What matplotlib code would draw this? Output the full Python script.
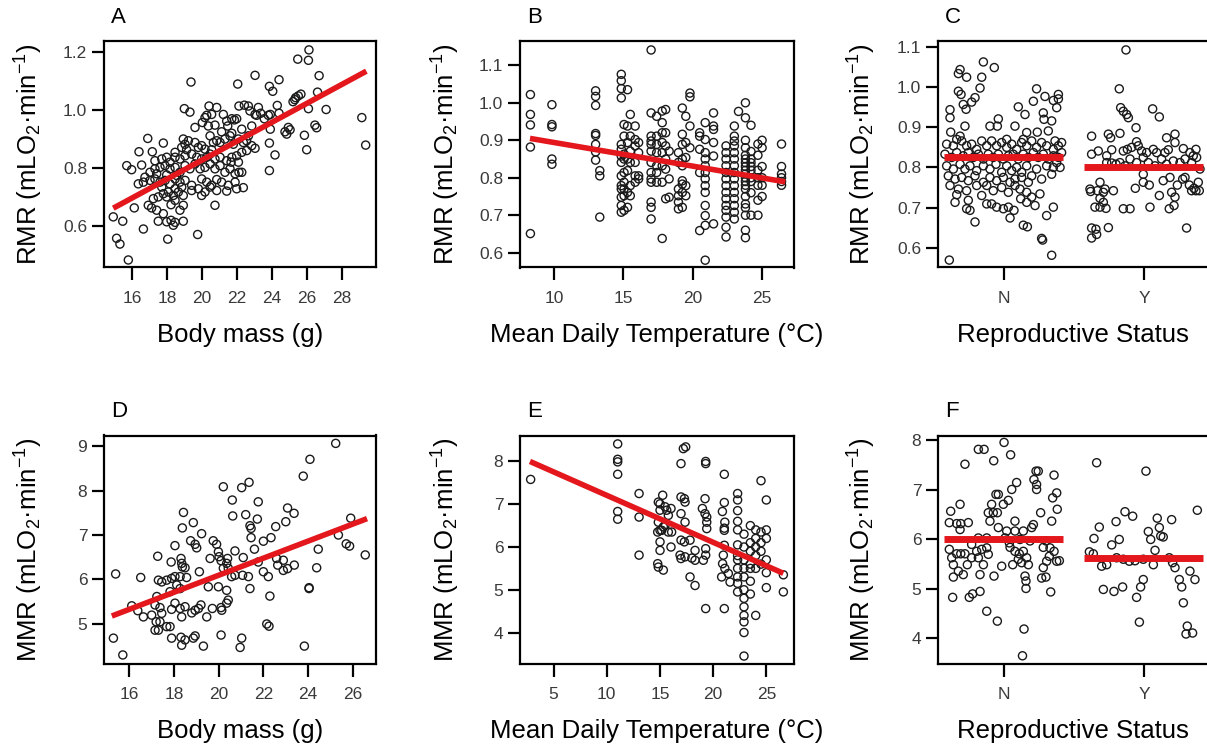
import matplotlib.pyplot as plt
import numpy as np

plt.rcParams['font.family'] = ['Liberation Sans', 'DejaVu Sans']
plt.rcParams['mathtext.fontset'] = 'custom'
plt.rcParams['mathtext.rm'] = 'Liberation Sans'
plt.rcParams['mathtext.it'] = 'Liberation Sans:italic'

# ---- panel A : RMR vs body mass (g, mL O2/min)
a_pts = [
    (26.11, 1.209), (25.47, 1.177), (26.08, 1.173), (26.69, 1.12), (19.37, 1.098), (22.04, 1.091),
    (23.03, 1.121), (24.4, 1.106), (23.85, 1.083), (24.04, 1.066), (26.6, 1.063), (27.09, 1.003),
    (26.08, 1.006), (25.3, 1.037), (25.5, 1.05), (25.65, 1.056), (25.35, 1.044), (25.2, 1.03),
    (24.3, 1.017), (24.4, 0.99), (23.9, 0.986), (23.9, 0.935), (23.56, 0.971), (18.99, 1.006),
    (19.31, 0.994), (20.4, 1.015), (20.84, 1.01), (20.55, 0.986), (20.27, 0.983), (22.11, 1.015),
    (22.42, 1.018), (22.65, 1.015), (23.22, 1.01), (23.12, 0.983), (23.35, 0.99), (23.03, 0.986),
    (22.74, 0.998), (21.7, 0.971), (21.98, 0.971), (21.85, 0.967), (21.22, 0.986), (23.79, 0.983),
    (24.93, 0.941), (25.03, 0.933), (24.74, 0.926), (24.84, 0.918), (25.85, 0.914), (26.45, 0.949),
    (26.55, 0.94), (25.98, 0.864), (24.17, 0.846), (23.85, 0.887), (23.85, 0.792), (23.03, 0.869),
    (22.36, 0.733), (22.11, 0.786), (21.89, 0.752), (21.41, 0.721), (20.74, 0.672), (19.75, 0.571),
    (18.04, 0.555), (16.9, 0.903), (17.79, 0.887), (16.4, 0.857), (17.16, 0.857), (15.7, 0.809),
    (15.98, 0.795), (16.55, 0.811), (16.36, 0.746), (16.65, 0.752), (14.93, 0.632), (15.47, 0.617),
    (15.12, 0.558), (15.31, 0.538), (15.79, 0.483), (16.13, 0.663), (16.65, 0.59), (17.5, 0.617),
    (17.98, 0.615), (18.36, 0.603), (18.46, 0.613), (18.93, 0.617), (18.23, 0.62), (16.93, 0.672),
    (17.12, 0.663), (17.41, 0.655), (17.79, 0.643), (18.23, 0.674), (18.74, 0.655), (18.93, 0.672),
    (29.13, 0.975), (29.35, 0.88),
    (19.6, 0.941), (20.02, 0.958), (20.17, 0.975), (20.36, 0.946), (20.74, 0.949), (21.12, 0.926),
    (21.47, 0.946), (21.7, 0.921), (22.27, 0.935), (22.65, 0.912), (22.84, 0.946), (21.41, 0.963),
    (18.93, 0.901), (19.03, 0.883), (19.22, 0.895), (19.6, 0.889), (19.98, 0.878), (20.46, 0.912),
    (20.65, 0.889), (20.84, 0.895), (21.03, 0.889), (21.31, 0.901), (21.6, 0.912), (21.79, 0.883),
    (22.08, 0.901), (22.36, 0.889), (22.55, 0.895), (22.84, 0.878), (18.46, 0.855), (18.84, 0.872),
    (19.12, 0.864), (19.79, 0.872), (20.17, 0.866), (20.55, 0.864),
    (17.31, 0.826), (17.7, 0.832), (17.98, 0.838), (18.17, 0.821), (18.46, 0.838), (18.74, 0.832),
    (19.03, 0.843), (19.41, 0.849), (19.7, 0.838), (19.98, 0.832), (20.27, 0.838), (20.46, 0.849),
    (20.74, 0.832), (21.03, 0.838), (21.41, 0.826), (21.7, 0.838), (21.98, 0.843), (22.27, 0.855),
    (22.55, 0.861), (22.08, 0.821), (21.66, 0.821),
    (17.03, 0.786), (17.31, 0.798), (17.6, 0.803), (17.89, 0.809), (18.17, 0.798), (18.46, 0.803),
    (18.74, 0.786), (19.03, 0.809), (19.31, 0.798), (19.6, 0.815), (19.89, 0.798), (20.17, 0.803),
    (20.46, 0.815), (20.74, 0.798), (21.03, 0.809), (21.31, 0.786), (21.6, 0.798), (21.89, 0.781),
    (22.27, 0.786), (17.41, 0.781), (17.98, 0.777), (18.55, 0.775),
    (17.03, 0.758), (17.31, 0.763), (17.6, 0.752), (17.89, 0.758), (18.17, 0.746), (18.46, 0.763),
    (18.74, 0.752), (19.03, 0.758), (19.41, 0.741), (19.98, 0.763), (20.27, 0.752), (20.55, 0.741),
    (20.84, 0.761), (21.12, 0.752), (21.5, 0.741), (21.98, 0.729), (16.74, 0.769), (17.7, 0.735),
    (18.46, 0.729), (18.84, 0.735),
    (17.22, 0.695), (17.5, 0.701), (17.79, 0.712), (18.08, 0.718), (18.36, 0.706), (18.65, 0.718),
    (18.93, 0.706), (19.41, 0.723), (19.79, 0.729), (20.17, 0.718), (20.46, 0.735), (20.84, 0.723),
    (19.98, 0.706), (17.98, 0.701), (18.46, 0.689),
]
a_fit_x = [14.93, 29.39]
a_fit_y = [0.662, 1.1355]

# ---- panel B : RMR vs mean daily temperature, one column per day
b_cols = [
    (8.3, [1.022, 0.969, 0.941, 0.882, 0.651]),
    (9.85, [0.995, 0.942, 0.936, 0.85, 0.836]),
    (13.0, [1.032, 1.017, 0.993, 0.918, 0.913, 0.889, 0.869, 0.847]),
    (13.3, [0.819, 0.805, 0.695]),
    (14.85, [1.076, 1.059, 1.038, 1.013, 0.889, 0.876, 0.858, 0.841, 0.805, 0.779, 0.77, 0.748, 0.726, 0.708]),
    (15.05, [0.942, 0.911, 0.863, 0.85, 0.814, 0.788, 0.77, 0.752, 0.713]),
    (15.3, [1.035, 0.938, 0.894, 0.85, 0.819, 0.761, 0.721]),
    (15.5, [0.969, 0.911, 0.871, 0.841, 0.779, 0.752]),
    (15.85, [0.938, 0.902, 0.885, 0.841, 0.805, 0.788]),
    (16.1, [0.894, 0.867, 0.805, 0.797]),
    (17.0, [1.141, 0.973, 0.911, 0.898, 0.889, 0.871, 0.841, 0.814, 0.797, 0.788, 0.735, 0.721, 0.69]),
    (17.4, [0.964, 0.911, 0.889, 0.867, 0.832, 0.814, 0.788]),
    (17.8, [0.978, 0.947, 0.92, 0.894, 0.867, 0.832, 0.788, 0.638]),
    (18.05, [0.982, 0.92, 0.885, 0.85, 0.823, 0.744]),
    (18.3, [0.871, 0.797, 0.748]),
    (18.97, [0.867, 0.841, 0.77, 0.752, 0.735, 0.717]),
    (19.25, [0.986, 0.916, 0.889, 0.85, 0.832, 0.792, 0.783, 0.761, 0.721]),
    (19.5, [0.964, 0.894, 0.854, 0.779, 0.752]),
    (19.8, [1.026, 1.016, 0.938, 0.88]),
    (20.5, [0.92, 0.911, 0.876, 0.814, 0.659]),
    (20.9, [0.947, 0.902, 0.867, 0.85, 0.832, 0.814, 0.797, 0.779, 0.761, 0.726, 0.699, 0.673, 0.58]),
    (21.5, [0.973, 0.938, 0.929, 0.894, 0.858, 0.677]),
    (22.4, [0.885, 0.867, 0.85, 0.832, 0.814, 0.797, 0.779, 0.761, 0.744, 0.726, 0.713, 0.695, 0.668, 0.642]),
    (23.0, [0.938, 0.911, 0.898, 0.885, 0.867, 0.85, 0.832, 0.814, 0.797, 0.779, 0.761, 0.744, 0.726, 0.708, 0.69]),
    (23.3, [0.977]),
    (23.8, [1.0, 0.96, 0.9, 0.88, 0.86, 0.85, 0.84, 0.83, 0.82, 0.81, 0.8, 0.79, 0.78, 0.77, 0.75, 0.73, 0.72, 0.7, 0.66, 0.64]),
    (24.2, [0.94, 0.87, 0.85, 0.84, 0.83, 0.82, 0.8, 0.79, 0.76, 0.7]),
    (24.7, [0.89, 0.86, 0.82, 0.8, 0.78, 0.74, 0.7]),
    (25.0, [0.9, 0.88, 0.83, 0.8, 0.78, 0.75]),
    (26.4, [0.89, 0.83, 0.81, 0.8, 0.79, 0.78]),
]
b_fit_x = [8.27, 26.67]
b_fit_y = [0.905, 0.789]

# ---- panel C : RMR by reproductive status (jittered position, value)
status = ['N', 'Y']
c_n_pts = [
    (0.606, 0.569), (0.683, 1.044), (0.671, 1.034), (0.73, 1.025), (0.85, 1.063), (0.928, 1.049),
    (0.838, 1.025), (0.826, 0.998), (0.611, 0.944), (0.611, 0.924), (0.671, 0.99), (0.69, 0.982),
    (0.706, 0.957), (0.726, 0.945), (0.766, 0.963), (0.79, 0.974), (0.718, 0.903), (0.616, 0.888),
    (0.659, 0.87), (0.683, 0.878), (0.897, 0.903), (0.957, 0.921), (0.95, 0.903), (1.1, 0.951),
    (1.148, 0.932), (1.208, 0.965), (1.231, 0.996), (1.291, 0.977), (1.279, 0.936), (1.284, 0.92),
    (1.351, 0.967), (1.375, 0.949), (1.387, 0.982), (1.387, 0.971), (1.339, 0.916), (1.076, 0.903),
    (1.16, 0.887), (1.136, 0.87), (1.236, 0.888), (1.315, 0.891), (1.363, 0.866), (1.017, 0.87),
    (0.587, 0.858), (0.635, 0.854), (0.695, 0.866), (0.73, 0.854), (0.766, 0.858), (0.802, 0.845),
    (0.838, 0.866), (0.874, 0.854), (0.909, 0.866), (0.945, 0.854), (0.981, 0.862), (1.017, 0.85),
    (1.053, 0.858), (1.088, 0.845), (1.124, 0.862), (1.16, 0.854), (1.196, 0.866), (1.231, 0.85),
    (1.267, 0.862), (1.303, 0.854), (1.351, 0.845), (1.387, 0.854), (1.41, 0.862),
    (0.575, 0.833), (0.623, 0.825), (0.659, 0.837), (0.706, 0.829), (0.742, 0.837), (0.778, 0.825),
    (0.814, 0.833), (0.85, 0.821), (0.885, 0.833), (0.921, 0.825), (0.957, 0.833), (0.993, 0.821),
    (1.029, 0.829), (1.064, 0.833), (1.1, 0.821), (1.136, 0.833), (1.172, 0.825), (1.208, 0.837),
    (1.243, 0.825), (1.279, 0.833), (1.315, 0.821), (1.351, 0.829), (1.387, 0.825), (1.41, 0.837),
    (0.587, 0.804), (0.635, 0.796), (0.683, 0.808), (0.718, 0.796), (0.754, 0.804), (0.802, 0.792),
    (0.85, 0.804), (0.897, 0.796), (0.94, 0.808), (0.981, 0.788), (1.017, 0.804), (1.053, 0.792),
    (1.088, 0.8), (1.124, 0.788), (1.16, 0.804), (1.231, 0.796), (1.303, 0.804), (1.351, 0.8),
    (1.375, 0.812), (1.399, 0.8),
    (0.599, 0.779), (0.647, 0.771), (0.695, 0.775), (0.742, 0.767), (0.79, 0.779), (0.85, 0.763),
    (0.897, 0.775), (0.945, 0.767), (0.993, 0.775), (1.041, 0.763), (1.076, 0.771), (1.124, 0.775),
    (1.172, 0.763), (1.196, 0.779), (1.267, 0.771), (1.339, 0.783),
    (0.611, 0.755), (0.671, 0.746), (0.73, 0.742), (0.802, 0.755), (0.874, 0.755), (0.921, 0.742),
    (0.981, 0.75), (1.029, 0.738), (1.076, 0.755), (1.112, 0.746), (1.16, 0.738),
    (0.659, 0.732), (0.742, 0.718), (0.73, 0.697), (0.754, 0.693), (0.79, 0.664), (0.838, 0.73),
    (0.874, 0.709), (0.909, 0.709), (0.945, 0.701), (0.993, 0.697), (1.029, 0.701), (1.041, 0.674),
    (1.069, 0.693), (1.117, 0.722), (1.136, 0.656), (1.165, 0.652), (1.16, 0.713), (1.196, 0.726),
    (1.255, 0.734), (1.267, 0.623), (1.274, 0.619), (1.303, 0.68), (1.339, 0.581), (1.351, 0.701),
    (1.22, 0.705), (0.647, 0.713),
]
c_y_pts = [
    (1.871, 1.093), (1.823, 0.996), (1.833, 0.949), (1.852, 0.94), (1.876, 0.932), (1.888, 0.924),
    (2.062, 0.946), (2.11, 0.926), (1.943, 0.899), (1.625, 0.878), (1.745, 0.883), (1.761, 0.874),
    (1.828, 0.885), (1.625, 0.833), (1.673, 0.841), (1.733, 0.829), (1.769, 0.844),
    (1.852, 0.841), (1.881, 0.845), (1.912, 0.85), (1.947, 0.864), (1.959, 0.854), (1.983, 0.841),
    (2.019, 0.837), (2.067, 0.845), (2.091, 0.837), (2.15, 0.837), (2.174, 0.844), (2.222, 0.883),
    (2.162, 0.874), (2.222, 0.862), (2.282, 0.847), (2.329, 0.837), (2.353, 0.829), (2.372, 0.845),
    (1.828, 0.812), (1.864, 0.804), (1.9, 0.821), (1.947, 0.812), (1.995, 0.825), (2.031, 0.812),
    (2.079, 0.804), (2.126, 0.821), (2.162, 0.808), (2.21, 0.816), (2.258, 0.812), (2.294, 0.821),
    (2.341, 0.812), (2.377, 0.825), (2.401, 0.796), (1.733, 0.812), (1.769, 0.811), (1.8, 0.808),
    (1.613, 0.746), (1.618, 0.74), (1.666, 0.742), (1.685, 0.763), (1.709, 0.738), (1.721, 0.746),
    (1.781, 0.742), (1.685, 0.723), (1.709, 0.713), (1.685, 0.701), (1.728, 0.698), (1.649, 0.701),
    (1.625, 0.649), (1.656, 0.646), (1.661, 0.633), (1.625, 0.624), (1.745, 0.65), (1.9, 0.697),
    (1.938, 0.748), (1.995, 0.783), (2.038, 0.756), (2.043, 0.701), (2.11, 0.73), (2.138, 0.767),
    (2.186, 0.775), (2.198, 0.738), (2.181, 0.697), (2.215, 0.705), (2.222, 0.726), (2.239, 0.756),
    (2.277, 0.771), (2.294, 0.775), (2.305, 0.649), (2.325, 0.756), (2.341, 0.742), (2.358, 0.748),
    (2.372, 0.742), (2.396, 0.742), (2.389, 0.763), (1.995, 0.763), (1.852, 0.697),
]
c_means = [0.8265, 0.80]

# ---- panel D : MMR vs body mass
d_pts = [
    (25.23, 9.07), (24.08, 8.71), (23.78, 8.33), (20.21, 8.09), (21.03, 8.07), (21.36, 8.19),
    (20.61, 7.79), (21.77, 7.75), (20.63, 7.43), (21.21, 7.46), (21.73, 7.36), (21.4, 7.21),
    (21.45, 7.15), (21.45, 6.94), (23.08, 7.61), (23.37, 7.49), (23.0, 7.3), (22.55, 7.19),
    (22.34, 6.94), (22.0, 6.86), (21.6, 6.68), (18.43, 7.51), (18.87, 7.28), (18.38, 7.16),
    (19.24, 7.03), (18.75, 6.87), (18.95, 6.79), (19.02, 6.71), (18.05, 6.76), (17.88, 6.39),
    (17.28, 6.52), (18.32, 6.47), (18.35, 6.36), (18.38, 6.28), (18.5, 6.26), (19.14, 6.17),
    (18.57, 6.04), (19.62, 6.47), (19.76, 6.87), (19.91, 6.79), (19.99, 6.62), (20.02, 6.51),
    (20.11, 6.42), (20.4, 6.47), (20.36, 6.36), (20.21, 6.25), (20.73, 6.64), (21.1, 6.49),
    (20.43, 6.25), (20.58, 6.06), (20.73, 6.09), (21.07, 6.09), (21.33, 6.06), (21.4, 5.79),
    (21.77, 6.39), (22.0, 6.17), (22.22, 6.06), (22.59, 6.47), (22.64, 6.32), (22.89, 6.2),
    (23.08, 6.24), (23.38, 6.32), (22.89, 6.43), (24.45, 6.68), (24.38, 6.26), (24.04, 5.81),
    (15.4, 6.12), (16.52, 6.04), (17.31, 5.98), (17.46, 5.94), (17.68, 5.98), (17.9, 6.02),
    (18.05, 6.06), (18.28, 6.06), (18.13, 5.87), (18.28, 5.79), (19.54, 5.83), (19.99, 5.83),
    (20.36, 5.75), (17.83, 5.72),
    (16.12, 5.40), (16.39, 5.29), (16.64, 5.15), (17.01, 5.19), (17.24, 5.61), (17.16, 5.42),
    (17.38, 5.36), (17.46, 5.23), (17.9, 5.32), (18.05, 5.46), (18.35, 5.15), (18.28, 5.34),
    (18.5, 5.38), (18.8, 5.24), (18.95, 5.3), (19.1, 5.34), (19.21, 5.42), (19.47, 5.15),
    (19.72, 5.34), (20.11, 5.36), (20.14, 5.3), (20.36, 5.46), (20.43, 5.53), (17.21, 5.04),
    (17.38, 5.04), (17.16, 4.85), (17.31, 4.85), (17.68, 4.93), (17.83, 4.93), (17.9, 4.67),
    (18.32, 4.69), (18.35, 4.51), (18.5, 4.63), (18.95, 4.72), (18.87, 4.67), (19.32, 4.49),
    (20.11, 4.74), (21.03, 4.67), (20.96, 4.46), (22.15, 4.99), (22.25, 4.94), (23.83, 4.49),
    (15.3, 4.67), (15.72, 4.29), (22.29, 5.62), (24.04, 5.79),
    (25.9, 7.38), (25.7, 6.8), (25.85, 6.75), (26.55, 6.55), (25.35, 7.0),
]
d_fit_x = [15.23, 26.63]
d_fit_y = [5.17, 7.37]

# ---- panel E : MMR vs mean daily temperature
e_pts = [
    (2.85, 7.58),
    (11.03, 8.41), (11.03, 8.05), (11.03, 7.99), (11.03, 7.70), (11.03, 6.83), (11.03, 6.65),
    (13.04, 7.25), (13.04, 6.70), (13.04, 5.81),
    (14.85, 7.05), (15.01, 7.01), (15.26, 7.21), (15.48, 6.94), (15.64, 6.86), (16.04, 6.9),
    (15.79, 6.74), (15.01, 6.86), (14.85, 6.58), (14.79, 6.35), (15.01, 6.39), (15.17, 6.39),
    (15.32, 6.47), (15.48, 6.51), (15.79, 6.35), (16.1, 6.35), (15.01, 6.12), (15.01, 5.92),
    (14.79, 5.61), (14.85, 5.53), (15.32, 5.46), (16.04, 6.0),
    (16.98, 7.17), (17.2, 8.3), (17.42, 8.34), (16.98, 7.95), (16.98, 6.78), (17.3, 7.13),
    (17.36, 7.05), (17.36, 6.58), (16.98, 6.16), (17.3, 6.12), (17.83, 6.16), (18.3, 5.92),
    (18.0, 5.74), (18.3, 5.69), (17.36, 5.77), (16.89, 5.81), (17.83, 5.3), (18.3, 5.1),
    (16.98, 5.73),
    (19.3, 8.0), (19.3, 7.95), (19.24, 7.13), (18.99, 6.9), (19.24, 6.78), (19.4, 6.7),
    (19.4, 6.58), (19.4, 6.43), (19.3, 5.96), (19.3, 5.81), (19.08, 5.69), (19.3, 4.56),
    (21.05, 7.7), (21.05, 7.04), (20.87, 6.83), (21.1, 6.58), (21.05, 6.44), (21.05, 6.39),
    (21.05, 6.04), (20.96, 5.81), (20.89, 5.61), (21.1, 5.5), (20.8, 5.3), (21.43, 5.38),
    (21.59, 5.18), (21.05, 4.56),
    (22.3, 7.25), (22.3, 7.1), (22.3, 6.85), (22.3, 6.6), (22.3, 6.4), (22.3, 6.05), (22.3, 5.8),
    (22.3, 5.7), (22.3, 5.5), (22.3, 5.3), (22.3, 5.15), (22.3, 4.95),
    (22.9, 6.3), (22.9, 6.0), (22.9, 5.7), (22.9, 5.5), (22.9, 5.3), (22.9, 5.0), (22.9, 4.8),
    (22.9, 4.6), (22.9, 4.4), (22.9, 4.25), (22.9, 4.0), (22.9, 3.45),
    (23.5, 6.5), (23.5, 6.1), (23.5, 5.9), (23.5, 5.6), (23.5, 5.5), (23.5, 5.2), (23.5, 4.9),
    (24.0, 6.4), (24.0, 6.2), (24.0, 6.0), (24.0, 5.8), (24.0, 5.5), (24.0, 4.4),
    (24.5, 7.55), (24.5, 6.35), (24.5, 6.1), (24.5, 5.9), (24.5, 5.6),
    (25.0, 7.1), (25.0, 6.4), (25.0, 6.2), (25.0, 5.7), (25.0, 5.4), (25.0, 5.05),
    (26.6, 5.35), (26.6, 4.95),
]
e_fit_x = [2.79, 26.6]
e_fit_y = [8.0, 5.385]

# ---- panel F : MMR by reproductive status
f_n_pts = [
    (0.814, 7.82), (0.855, 7.82), (0.998, 7.96), (0.924, 7.59), (1.045, 7.71), (0.718, 7.52),
    (1.227, 7.38), (1.243, 7.38), (1.212, 7.21), (1.231, 7.11), (1.231, 7.01), (1.356, 7.3),
    (1.375, 6.94), (1.346, 6.84), (1.379, 6.61), (1.088, 7.15), (1.053, 7.01), (1.029, 6.79),
    (0.993, 6.71), (0.94, 6.91), (0.957, 6.91), (0.909, 6.71), (0.921, 6.54), (0.95, 6.54),
    (0.897, 6.37), (0.885, 6.54), (0.957, 6.24), (0.616, 6.57), (0.683, 6.71), (0.606, 6.34),
    (0.659, 6.32), (0.688, 6.32), (0.742, 6.34), (0.683, 6.2), (1.076, 6.37), (1.017, 6.17),
    (1.076, 6.17), (1.136, 6.17), (1.208, 6.3), (1.196, 6.24), (1.26, 6.54), (1.339, 6.37),
    (0.766, 5.9), (0.814, 6.03), (0.874, 6.03), (1.005, 6.03), (1.036, 5.93), (1.112, 6.0),
    (1.184, 5.97), (1.279, 5.84), (1.298, 5.97), (1.327, 5.83), (1.356, 5.76), (1.375, 5.56),
    (1.394, 5.57), (1.303, 5.56), (1.322, 5.66), (1.279, 5.43), (1.267, 5.22), (1.298, 5.24),
    (0.606, 5.8), (0.623, 5.63), (0.659, 5.71), (0.688, 5.71), (0.718, 5.71), (0.635, 5.49),
    (0.671, 5.36), (0.635, 5.24), (0.706, 5.29), (0.735, 5.49), (0.766, 5.63), (0.802, 5.76),
    (0.814, 5.63), (0.838, 5.8), (0.874, 5.83), (0.885, 5.7), (0.85, 5.49), (0.826, 5.29),
    (0.926, 5.26), (0.981, 5.46), (1.041, 5.84), (1.076, 5.76), (1.107, 5.71), (1.136, 5.76),
    (1.16, 5.63), (1.1, 5.6), (1.124, 5.53), (1.172, 5.49), (1.148, 5.26), (1.155, 5.16),
    (1.155, 5.01), (1.06, 5.49), (0.63, 4.83), (0.749, 4.83), (0.773, 4.9), (0.826, 4.95),
    (0.874, 4.55), (0.95, 4.35), (1.141, 4.19), (1.332, 4.94), (1.13, 3.65),
]
f_y_pts = [
    (1.661, 7.55), (2.014, 7.38), (2.382, 6.59), (1.68, 6.25), (1.642, 6.02), (1.769, 5.89),
    (1.823, 6.0), (1.8, 6.36), (1.864, 6.56), (1.919, 6.47), (2.095, 6.43), (2.198, 6.4),
    (2.11, 6.24), (2.12, 6.07), (2.138, 6.05), (2.031, 6.16), (2.048, 6.0), (2.079, 5.78),
    (1.609, 5.75), (1.637, 5.71), (1.697, 5.46), (1.733, 5.49), (1.804, 5.63), (1.852, 5.6),
    (1.895, 5.56), (1.936, 5.57), (1.995, 5.6), (2.067, 5.49), (2.181, 5.63), (2.205, 5.53),
    (2.222, 5.43), (2.329, 5.36), (2.365, 5.19), (2.253, 5.19), (2.27, 5.04), (2.282, 4.72),
    (1.709, 4.99), (1.785, 4.95), (1.847, 5.04), (1.976, 5.04), (1.995, 5.19), (1.947, 4.83),
    (1.967, 4.33), (2.31, 4.25), (2.301, 4.09), (2.348, 4.11),
]
f_means = [6.0, 5.63]

RED = '#e3171c'
PT = '#1a1a1a'
TICKC = '#3a3a3a'

fig = plt.figure(figsize=(12.07, 7.55), dpi=100)

lefts = [104 / 1207, 520 / 1207, 938 / 1207]
widths = [272 / 1207, 274 / 1207, 280 / 1207]
rows = [(1 - 267.5 / 755, 226 / 755), (1 - 663.5 / 755, 228 / 755)]
ylab_x = [(29 - 104) / 272, (446 - 520) / 274, (862 - 938) / 280]
xlab_x = [0.5, 0.5, (1073 - 938) / 280]


def make_ax(r, c):
    b, h = rows[r]
    return fig.add_axes([lefts[c], b, widths[c], h])


def finish(ax, r, c, letter, xlabel, ylabel):
    for s in ax.spines.values():
        s.set_linewidth(1.6)
    ax.tick_params(length=9, width=1.6, colors='black', labelcolor=TICKC, labelsize=12.5)
    ax.tick_params(axis='x', pad=8)
    ax.tick_params(axis='y', pad=3)
    ax.text(0.025 * 272 / (widths[c] * 1207), 1.06, letter, transform=ax.transAxes,
            fontsize=16, ha='left', va='bottom')
    ax.set_xlabel(xlabel, fontsize=18.5)
    ax.xaxis.set_label_coords(xlab_x[c], -0.245)
    ax.text(ylab_x[c], 0.5, ylabel, transform=ax.transAxes, rotation=90,
            ha='center', va='center', fontsize=18.5)


def scatter(ax, x, y):
    ax.scatter(x, y, s=34, facecolors='none', edgecolors=PT, linewidths=1.0, zorder=2)


rmr_lab = r'RMR (mLO$_2$·min$^{-1}$)'
mmr_lab = r'MMR (mLO$_2$·min$^{-1}$)'
mass_lab = 'Body mass (g)'
temp_lab = 'Mean Daily Temperature (°C)'
rep_lab = 'Reproductive Status'

# A
ax = make_ax(0, 0)
a = np.array(a_pts)
scatter(ax, a[:, 0], a[:, 1])
ax.plot(a_fit_x, a_fit_y, color=RED, lw=4, solid_capstyle='butt', zorder=3)
ax.set_xlim(14.4, 29.94)
ax.set_ylim(0.457, 1.238)
ax.set_xticks([16, 18, 20, 22, 24, 26, 28])
ax.set_yticks([0.6, 0.8, 1.0, 1.2])
ax.set_yticklabels(['0.6', '0.8', '1.0', '1.2'])
finish(ax, 0, 0, 'A', mass_lab, rmr_lab)

# B
ax = make_ax(0, 1)
bx = [t for t, vals in b_cols for v in vals]
by = [v for t, vals in b_cols for v in vals]
scatter(ax, bx, by)
ax.plot(b_fit_x, b_fit_y, color=RED, lw=4, solid_capstyle='butt', zorder=3)
ax.set_xlim(7.55, 27.3)
ax.set_ylim(0.5605, 1.1636)
ax.set_xticks([10, 15, 20, 25])
ax.set_yticks([0.6, 0.7, 0.8, 0.9, 1.0, 1.1])
ax.set_yticklabels(['0.6', '0.7', '0.8', '0.9', '1.0', '1.1'])
finish(ax, 0, 1, 'B', temp_lab, rmr_lab)

# C
ax = make_ax(0, 2)
cn = np.array(c_n_pts)
cy = np.array(c_y_pts)
scatter(ax, cn[:, 0], cn[:, 1])
scatter(ax, cy[:, 0], cy[:, 1])
for i, m in enumerate(c_means):
    ax.plot([i + 1 - 0.43, i + 1 + 0.42], [m, m], color=RED, lw=5, solid_capstyle='butt', zorder=3)
ax.set_xlim(0.525, 2.53)
ax.set_ylim(0.5505, 1.114)
ax.set_xticks([1, 2])
ax.set_xticklabels(status)
ax.set_yticks([0.6, 0.7, 0.8, 0.9, 1.0, 1.1])
ax.set_yticklabels(['0.6', '0.7', '0.8', '0.9', '1.0', '1.1'])
finish(ax, 0, 2, 'C', rep_lab, rmr_lab)

# D
ax = make_ax(1, 0)
d = np.array(d_pts)
scatter(ax, d[:, 0], d[:, 1])
ax.plot(d_fit_x, d_fit_y, color=RED, lw=4, solid_capstyle='butt', zorder=3)
ax.set_xlim(14.88, 27.03)
ax.set_ylim(4.097, 9.248)
ax.set_xticks([16, 18, 20, 22, 24, 26])
ax.set_yticks([5, 6, 7, 8, 9])
finish(ax, 1, 0, 'D', mass_lab, mmr_lab)

# E
ax = make_ax(1, 1)
e = np.array(e_pts)
scatter(ax, e[:, 0], e[:, 1])
ax.plot(e_fit_x, e_fit_y, color=RED, lw=4, solid_capstyle='butt', zorder=3)
ax.set_xlim(1.85, 27.6)
ax.set_ylim(3.276, 8.607)
ax.set_xticks([5, 10, 15, 20, 25])
ax.set_yticks([4, 5, 6, 7, 8])
finish(ax, 1, 1, 'E', temp_lab, mmr_lab)

# F
ax = make_ax(1, 2)
fn = np.array(f_n_pts)
fy = np.array(f_y_pts)
scatter(ax, fn[:, 0], fn[:, 1])
scatter(ax, fy[:, 0], fy[:, 1])
for i, m in enumerate(f_means):
    ax.plot([i + 1 - 0.43, i + 1 + 0.42], [m, m], color=RED, lw=5, solid_capstyle='butt', zorder=3)
ax.set_xlim(0.525, 2.53)
ax.set_ylim(3.494, 8.1)
ax.set_xticks([1, 2])
ax.set_xticklabels(status)
ax.set_yticks([4, 5, 6, 7, 8])
finish(ax, 1, 2, 'F', rep_lab, mmr_lab)

fig.savefig('out.png', dpi=100)
